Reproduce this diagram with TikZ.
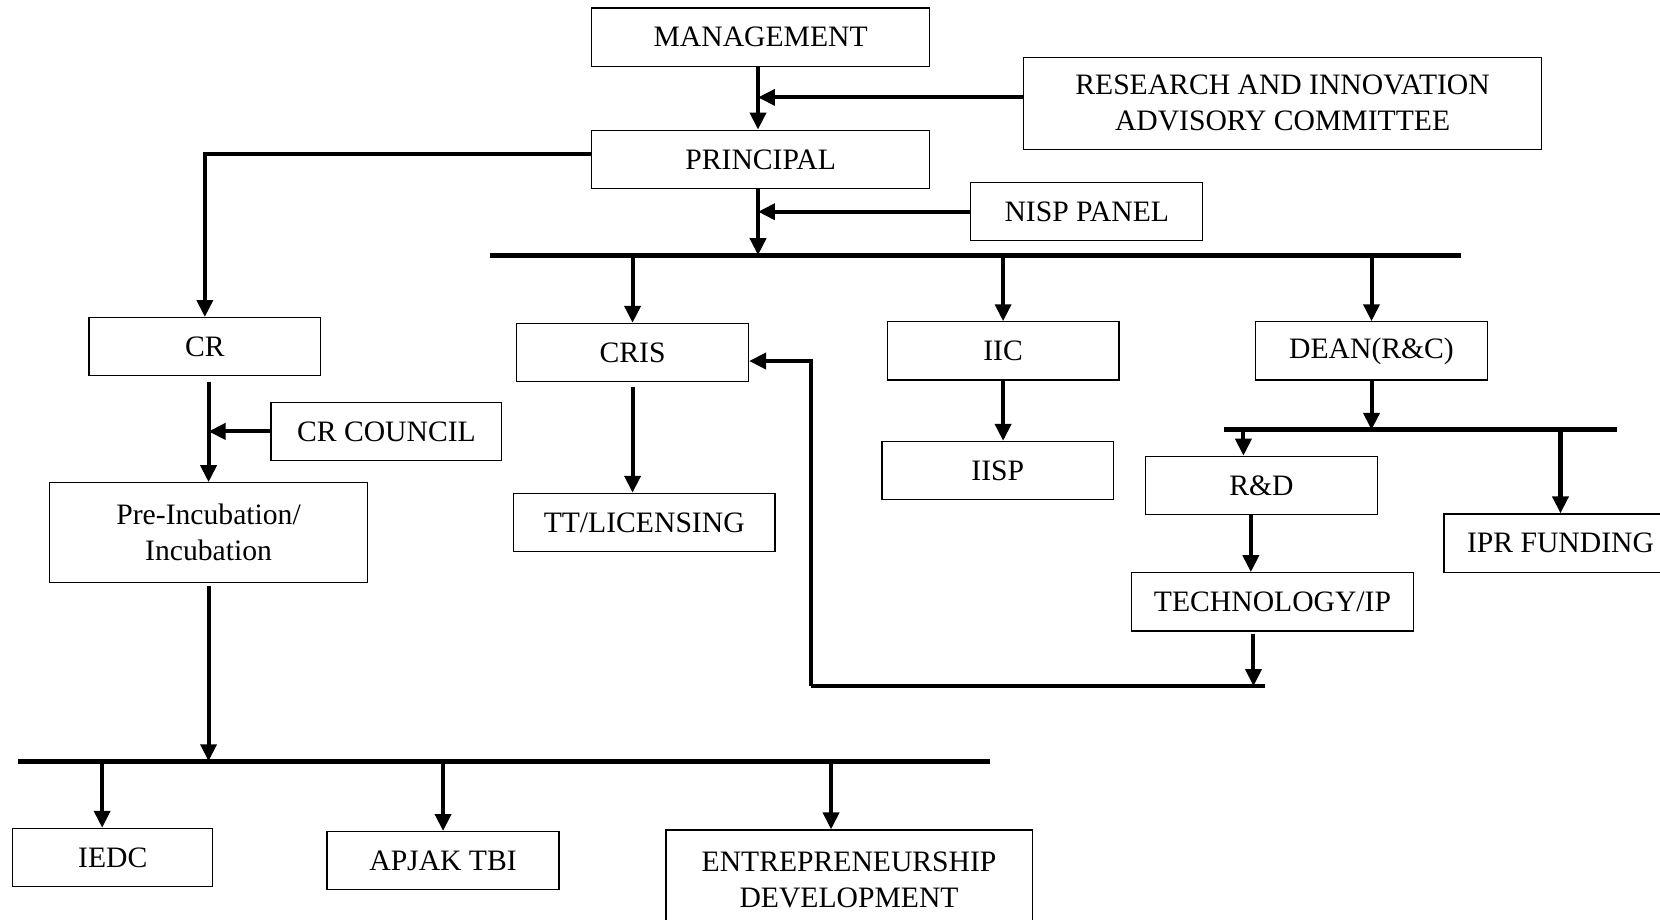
\documentclass[tikz,border=0pt]{standalone}
\usepackage{fontspec}
\setmainfont{Liberation Serif}
\usetikzlibrary{arrows.meta}

\begin{document}
\begin{tikzpicture}[x=0.5pt,y=-0.5pt,
  box/.style={draw,line width=0.6pt,inner sep=0pt,minimum height=27.5pt,align=center,
    font=\fontsize{14}{17}\selectfont},
  arr/.style={line width=1.9pt,-{Triangle[length=8pt,width=7.5pt]}},
  busline/.style={line width=2.3pt}]
\useasboundingbox (0,0) rectangle (1568,869);
\node[box,minimum width=159.5pt] (mgmt) at (718.5,35) {MANAGEMENT};
\node[box,minimum width=244.5pt,minimum height=43.5pt] (rinc) at (1211.5,97.5) {RESEARCH AND INNOVATION\\ADVISORY COMMITTEE};
\node[box,minimum width=159.5pt] (prin) at (718.5,150.5) {PRINCIPAL};
\node[box,minimum width=109.5pt] (nisp) at (1026.5,200) {NISP PANEL};
\node[box,minimum width=109.5pt] (cr) at (193.5,327.5) {CR};
\node[box,minimum width=109.5pt] (cris) at (597.5,333) {CRIS};
\node[box,minimum width=109.5pt] (iic) at (947.5,331.5) {IIC};
\node[box,minimum width=109.5pt] (dean) at (1295.5,331.5) {DEAN(R\&C)};
\node[box,minimum width=109pt] (crc) at (365,407.5) {CR COUNCIL};
\node[box,minimum width=109.5pt] (iisp) at (942.5,444.5) {IISP};
\node[box,minimum width=109.5pt] (rd) at (1191.5,458.5) {R\&D};
\node[box,minimum width=150pt,minimum height=47pt] (preinc) at (197,503) {Pre-Incubation/\\Incubation};
\node[box,minimum width=123.5pt] (tt) at (608.5,493.5) {TT/LICENSING};
\node[box,minimum width=110pt] (ipr) at (1474,513) {IPR FUNDING};
\node[box,minimum width=133pt] (tech) at (1202,568.5) {TECHNOLOGY/IP};
\node[box,minimum width=94.5pt] (iedc) at (106.5,810) {IEDC};
\node[box,minimum width=109.5pt] (apjak) at (418.5,813) {APJAK TBI};
\node[box,minimum width=173pt,minimum height=47pt] (entre) at (802,831) {ENTREPRENEURSHIP\\DEVELOPMENT};

\coordinate (rj) at (716,92);
\coordinate (tb1) at (463,241);
\coordinate (tb2) at (1380,241);
\coordinate (db1) at (1156,406);
\coordinate (db2) at (1527,406);
\coordinate (bb1) at (17,719);
\coordinate (bb2) at (935,719);
\coordinate (fb1) at (1195,648);
\coordinate (fb2) at (766,648);

\draw[busline] (tb1) -- (tb2);
\draw[busline] (db1) -- (db2);
\draw[busline] (bb1) -- (bb2);
\draw[busline] (fb1) -- (fb2);

\draw[arr] ([xshift=-1.25pt]mgmt.south) -- ([xshift=-1.25pt]prin.north);
\draw[arr] (rinc.west |- rj) -- (rj);
\draw[arr] ([xshift=-1.25pt]prin.south) -- ([xshift=-1.25pt]prin.south |- tb1);
\draw[arr] (nisp.west) -- ([xshift=-1.25pt]nisp.west -| prin.south);
\draw[arr] ([yshift=2.75pt]prin.west) -| (cr.north);
\draw[arr] (cris.north |- tb1) -- (cris.north);
\draw[arr] (iic.north |- tb1) -- (iic.north);
\draw[arr] (dean.north |- tb1) -- (dean.north);
\draw[arr] ([yshift=-2pt]cris.south) -- (cris.south |- tt.north);
\draw[arr] (iic) -- (iic.south |- iisp.north);
\draw[arr] (dean.south) -- (dean.south |- db1);
\draw[arr] ([xshift=-8.5pt]rd.north |- db1) -- ([xshift=-8.5pt]rd.north);
\draw[arr] (ipr.north |- db1) -- (ipr.north);
\draw[arr] ([xshift=-5pt]rd.south) -- ([xshift=-5pt]rd.south |- tech.north);
\draw[arr] ([xshift=-9pt,yshift=-1pt]tech.south) -- ([xshift=-9pt]tech.south |- fb1);
\draw[arr] (fb2) |- ([yshift=-4pt]cris.east);
\draw[arr] ([yshift=-2.5pt]cr.south -| preinc.north) -- (preinc.north);
\draw[arr] (crc.west) -- (crc.west -| preinc.north);
\draw[arr] ([yshift=-1.5pt]preinc.south) -- (preinc.south |- bb1);
\draw[arr] ([xshift=-5pt]iedc.north |- bb1) -- ([xshift=-5pt]iedc.north);
\draw[arr] (apjak.north |- bb1) -- (apjak.north);
\draw[arr] ([xshift=-8.5pt]entre.north |- bb1) -- ([xshift=-8.5pt]entre.north);
\end{tikzpicture}
\end{document}
